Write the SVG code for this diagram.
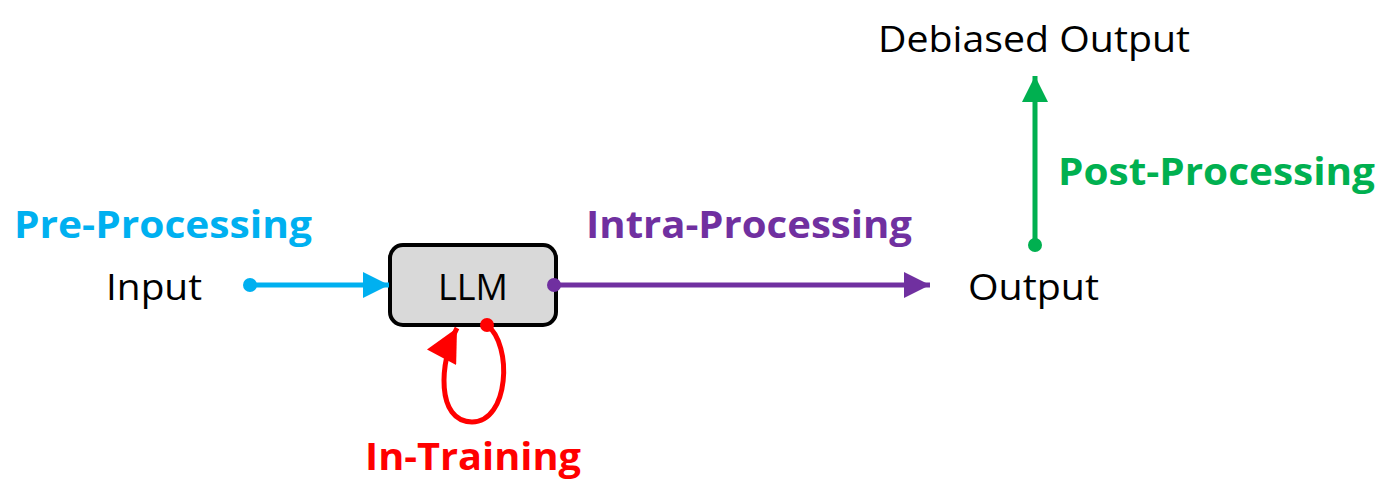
<svg xmlns="http://www.w3.org/2000/svg" width="1384" height="496" viewBox="0 0 1384 496">
<style>
text{font-family:"Open Sans","Noto Sans",sans-serif}
.lbl{font-size:36px;fill:#000}
.stage{font-size:37px;font-weight:bold}
.conn{fill:none;stroke-width:5}
</style>
<defs>
<marker id="ab" viewBox="0 0 10 10" refX="10" refY="5" markerWidth="5.6" markerHeight="5.2" markerUnits="strokeWidth" orient="auto"><path d="M0,0L10,5L0,10z" fill="#00b0f0"/></marker>
<marker id="ap" viewBox="0 0 10 10" refX="10" refY="5" markerWidth="5.6" markerHeight="5.2" markerUnits="strokeWidth" orient="auto"><path d="M0,0L10,5L0,10z" fill="#7030a0"/></marker>
<marker id="ag" viewBox="0 0 10 10" refX="10" refY="5" markerWidth="5.6" markerHeight="5.2" markerUnits="strokeWidth" orient="auto"><path d="M0,0L10,5L0,10z" fill="#00b050"/></marker>
<marker id="ar" viewBox="0 0 10 10" refX="10" refY="5" markerWidth="7.2" markerHeight="6.6" markerUnits="strokeWidth" orient="auto"><path d="M0,0L10,5L0,10z" fill="#ff0000"/></marker>
</defs>
<g id="llm">
<rect x="390" y="245" width="166" height="80" rx="13" fill="#d9d9d9" stroke="#000" stroke-width="4"/>
<text class="lbl" x="473" y="300" text-anchor="middle">LLM</text>
</g>
<g id="input"><text class="lbl" x="106" y="300" textLength="96" lengthAdjust="spacingAndGlyphs">Input</text></g>
<g id="output"><text class="lbl" x="968" y="300" textLength="131" lengthAdjust="spacingAndGlyphs">Output</text></g>
<g id="debiased-output"><text class="lbl" x="878" y="52" textLength="312" lengthAdjust="spacingAndGlyphs">Debiased Output</text></g>
<g id="pre-processing"><text class="stage" fill="#00b0f0" x="14" y="238" textLength="298" lengthAdjust="spacingAndGlyphs">Pre-Processing</text></g>
<g id="intra-processing"><text class="stage" fill="#7030a0" x="586" y="238" textLength="326" lengthAdjust="spacingAndGlyphs">Intra-Processing</text></g>
<g id="post-processing"><text class="stage" fill="#00b050" x="1058" y="185" textLength="317" lengthAdjust="spacingAndGlyphs">Post-Processing</text></g>
<g id="in-training"><text class="stage" fill="#ff0000" x="365" y="470" textLength="216" lengthAdjust="spacingAndGlyphs">In-Training</text></g>
<g id="connectors">
<path class="conn" stroke="#00b0f0" d="M250 285H389" marker-end="url(#ab)"/>
<circle cx="250" cy="285" r="7" fill="#00b0f0"/>
<path class="conn" stroke="#7030a0" d="M554 285H930" marker-end="url(#ap)"/>
<circle cx="554" cy="285" r="7" fill="#7030a0"/>
<path class="conn" stroke="#00b050" d="M1035 245V76" marker-end="url(#ag)"/>
<circle cx="1035" cy="245" r="7" fill="#00b050"/>
<path class="conn" stroke="#ff0000" stroke-width="4" d="M487 325C513 345 509 422 472 422C436 422 439 362 457 328" marker-end="url(#ar)"/>
<circle cx="487" cy="325" r="7" fill="#ff0000"/>
</g>
</svg>
